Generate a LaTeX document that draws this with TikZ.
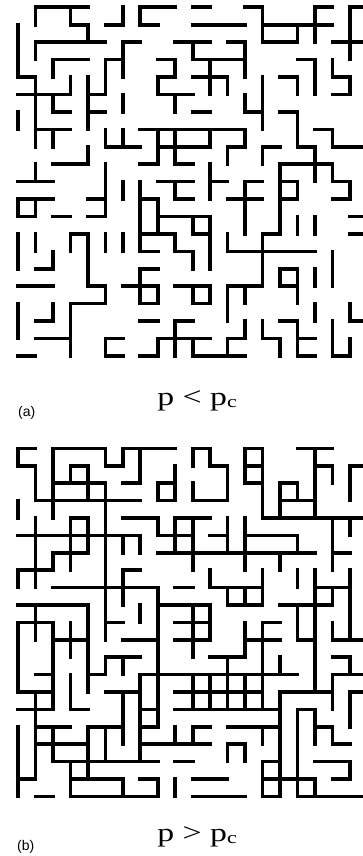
\documentclass[tikz,border=0pt]{standalone}
\usepackage{fontspec}
\setmainfont{Liberation Serif}
\newfontfamily\labfont{Liberation Sans}
\begin{document}
\begin{tikzpicture}[x=1pt,y=1pt,
  bond/.style={line width=3.6pt, line cap=rect},
  panellab/.style={font=\labfont\fontsize{14}{16}\selectfont, anchor=base west, inner sep=0pt},
  eqlab/.style={font=\fontsize{26}{28}\selectfont, anchor=base west, inner sep=0pt, xscale=1.3}]
\useasboundingbox (0,0) rectangle (363,-856);
\begin{scope}
\clip (0,0) rectangle (363,-856);
% ---------- panel (a) ----------
\foreach \r/\a/\b in {0/1/4,0/7/9,0/10/11,0/13/14,0/17/18,0/19/20,
 1/3/4,1/5/6,1/7/8,1/10/13,1/14/18,
 2/1/5,2/6/7,2/9/11,2/12/13,2/14/16,2/18/20,
 3/2/4,3/5/6,3/8/9,3/10/13,3/16/17,
 4/0/1,4/8/9,4/10/12,4/15/16,4/18/19,
 5/0/3,5/4/5,5/8/10,5/18/19,
 6/2/3,6/4/5,6/10/11,6/13/14,6/15/16,
 7/1/3,7/7/13,7/17/18,
 8/5/7,8/8/11,8/12/13,8/14/15,8/16/17,8/18/20,
 9/2/4,9/7/8,9/9/10,9/15/18,
 10/0/2,10/8/10,10/11/12,10/13/14,10/15/16,10/18/19,
 11/0/2,11/4/5,11/7/8,11/9/10,11/12/14,11/15/16,11/18/19,
 12/0/1,12/2/3,12/4/5,12/8/11,12/19/20,
 13/3/4,13/7/9,13/10/11,13/14/15,13/19/20,
 14/7/8,14/9/10,14/12/17,
 15/1/2,15/7/8,15/15/16,
 16/0/2,16/4/5,16/6/8,16/9/11,16/12/14,16/15/16,
 17/3/5,17/7/8,17/10/11,
 18/1/2,18/7/8,18/9/10,18/15/16,18/19/20,
 19/1/3,19/5/6,19/8/11,19/12/13,19/14/15,19/16/17,
 20/0/1,20/5/6,20/7/8,20/10/13,20/16/17,20/18/19}
 \draw[bond] ({18+17.47*\a},{-7.3-17.43*\r}) -- ({18+17.47*\b},{-7.3-17.43*\r});
\foreach \c/\a/\b in {0/1/4,0/6/7,0/11/12,0/13/15,0/17/19,
 1/0/1,1/2/3,1/4/8,1/9/10,1/11/12,1/13/14,
 2/3/4,2/5/6,2/7/8,2/14/15,2/17/18,
 3/0/1,3/4/5,3/13/14,3/17/20,
 4/1/2,4/4/7,4/8/9,4/13/16,
 5/3/5,5/7/8,5/9/12,5/13/14,5/16/17,5/19/20,
 6/0/1,6/2/4,6/5/6,6/7/8,6/10/11,6/13/14,
 7/0/1,7/10/14,7/15/17,
 8/4/5,8/7/9,8/11/13,8/16/17,8/19/20,
 9/3/4,9/5/6,9/7/9,9/10/11,9/13/14,9/18/20,
 10/2/3,10/12/13,10/14/15,10/16/17,10/19/20,
 11/3/5,11/7/8,11/9/11,11/12/15,11/16/17,
 12/4/5,12/8/9,12/13/14,12/16/18,12/19/20,
 13/2/4,13/5/6,13/7/8,13/10/13,13/16/17,13/18/19,
 14/0/2,14/4/7,14/8/9,14/13/16,14/18/19,
 15/9/13,15/15/16,15/19/20,
 16/1/2,16/4/5,16/6/8,16/10/11,16/12/13,16/15/17,16/18/20,
 17/0/2,17/3/5,17/8/10,17/12/13,17/15/16,17/17/18,
 18/3/4,18/7/8,18/9/10,18/14/16,18/18/20,
 19/0/3,19/4/5,19/10/11,19/17/18,19/19/20}
 \draw[bond] ({18+17.47*\c},{-7.3-17.43*\a}) -- ({18+17.47*\c},{-7.3-17.43*\b});
% ---------- panel (b) ----------
\foreach \r/\a/\b in {0/0/1,0/2/5,0/6/9,0/10/11,0/13/14,0/16/18,
 1/0/1,1/3/4,1/5/6,1/11/12,1/13/14,1/17/18,1/19/20,
 2/2/5,2/6/7,2/8/9,2/13/14,2/15/16,
 3/1/7,3/8/9,3/10/12,3/15/17,
 4/3/4,4/6/8,4/9/11,4/14/20,
 5/0/7,5/8/10,5/11/12,5/13/16,
 6/2/4,6/8/17,6/18/19,
 7/0/2,7/6/7,
 8/2/8,8/9/10,8/11/14,8/17/19,
 9/0/4,9/8/11,9/12/14,9/15/18,
 10/0/2,10/5/6,10/9/11,10/14/15,
 11/2/4,11/6/8,11/9/11,11/13/15,11/16/17,11/18/20,
 12/5/7,12/11/13,12/18/19,
 13/1/2,13/4/5,13/7/16,13/18/20,
 14/0/2,14/5/7,14/9/14,14/15/18,14/19/20,
 15/0/2,15/3/4,15/7/8,15/9/15,15/16/17,
 16/1/3,16/4/6,16/7/8,16/10/11,16/12/15,16/17/18,
 17/1/4,17/7/11,17/12/13,17/18/19,
 18/2/8,18/9/10,18/14/15,18/17/19,
 19/0/1,19/3/6,19/7/8,19/10/12,19/14/17,19/18/19,
 20/1/2,20/3/8,20/10/13,20/14/15,20/16/20}
 \draw[bond] ({18+17.47*\a},{-448.3-17.4*\r}) -- ({18+17.47*\b},{-448.3-17.4*\r});
\foreach \c/\a/\b in {0/0/1,0/3/4,0/7/8,0/10/14,0/16/20,
 1/1/3,1/4/8,1/9/11,1/14/19,
 2/0/4,2/6/7,2/10/15,2/16/18,
 3/1/2,3/4/7,3/10/12,3/13/15,3/18/20,
 4/1/3,4/4/6,4/9/14,4/16/19,
 5/0/1,5/2/11,5/12/13,5/16/18,
 6/0/1,6/5/6,6/7/9,6/12/13,6/14/17,6/19/20,
 7/0/2,7/5/6,7/9/10,7/13/18,
 8/2/3,8/4/5,8/8/16,8/19/20,
 9/1/3,9/4/6,9/16/17,9/19/20,
 10/0/1,10/2/3,10/4/7,10/9/12,10/13/15,10/16/17,
 11/0/1,11/7/8,11/9/11,11/13/15,
 12/1/3,12/4/6,12/8/9,12/12/15,12/17/18,
 13/0/2,13/4/7,13/8/9,13/10/12,13/13/15,13/17/18,
 14/0/4,14/7/9,14/10/15,14/16/17,14/18/20,
 15/2/4,15/6/7,15/12/13,15/14/20,
 16/2/3,16/5/6,16/7/8,16/9/11,16/15/20,
 17/0/4,17/7/14,17/15/17,17/19/20,
 18/1/2,18/4/7,18/8/9,18/10/11,18/13/15,18/16/17,
 19/1/3,19/4/5,19/7/11,19/12/13,19/14/16,19/18/19}
 \draw[bond] ({18+17.47*\c},{-448.3-17.4*\a}) -- ({18+17.47*\c},{-448.3-17.4*\b});
\end{scope}
% ---------- labels ----------
\node[panellab] (la) at (18,-416) {(a)};
\node[eqlab] (pa) at (157,-405) {p < p\raisebox{-0.2ex}{\fontsize{17}{17}\selectfont c}};
\node[panellab] (lb) at (17,-850) {(b)};
\node[eqlab] (pb) at (157,-841) {p > p\raisebox{-0.2ex}{\fontsize{17}{17}\selectfont c}};
\end{tikzpicture}
\end{document}
